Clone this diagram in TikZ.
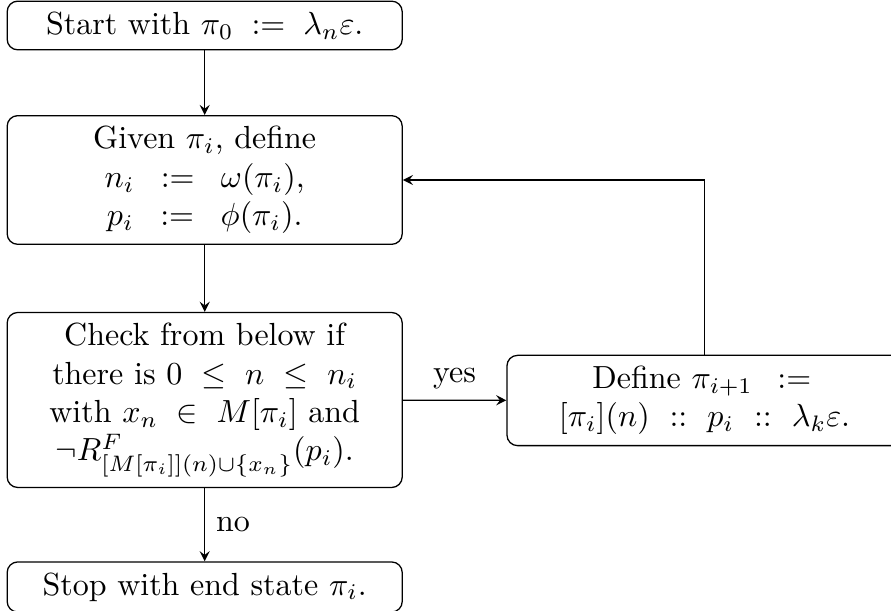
\documentclass[tikz,border=0pt]{standalone}
\usepackage{amsmath}

\begin{document}
\begin{tikzpicture}[x=0.3125pt,y=0.3125pt,yscale=-1,
	box/.style={draw, rounded corners=3.3pt, align=center, text width=116.8pt, inner sep=3.33pt},
	flow/.style={->, >=stealth, line width=0.4pt}]

	%%page frame, the right box runs past it
	\useasboundingbox (0,0) rectangle (891,611);
	\clip (0,0) rectangle (891,611);

	%%BOXES---------------------------------------------
	% Start
	\node [box] (start) at (204.7,25.5) {Start with $\pi_0 \,:=\, \lambda_n\varepsilon$.};
	% Given
	\node [box] (given) at (204.7,180) {Given $\pi_i$, define\\ $n_i \,:=\, \omega(\pi_i)$,\\ $p_i \,:=\, \phi(\pi_i)$.};
	% Check
	\node [box] (check) at (204.7,400) {Check from below if\\ there is $0 \,\leq\, n \,\leq\, n_i$\\ with $x_n \,\in\, M[\pi_i]$ and\\ $\neg R^{F}_{[M[\pi_i]](n) \cup \{x_n\}}(p_i)$.};
	% Define
	\node [box] (define) at (704.5,400.5) {Define $\pi_{i+1} \,:=\,$\\ $[\pi_i](n) \,::\, p_i \,::\, \lambda_k\varepsilon$.};
	% Stop
	\node [box] (stop) at (204.7,587) {Stop with end state $\pi_i$.};

	%%ARROWS--------------------------------------------
	\draw [flow] (start) -- (given);
	\draw [flow] (given) -- (check);
	\draw [flow] (check) -- node [above] {yes} (define);
	\draw [flow] (check) -- node [right] {no} (stop);
	%loop back
	\draw [flow] (define.north) |- (given.east);

\end{tikzpicture}
\end{document}
